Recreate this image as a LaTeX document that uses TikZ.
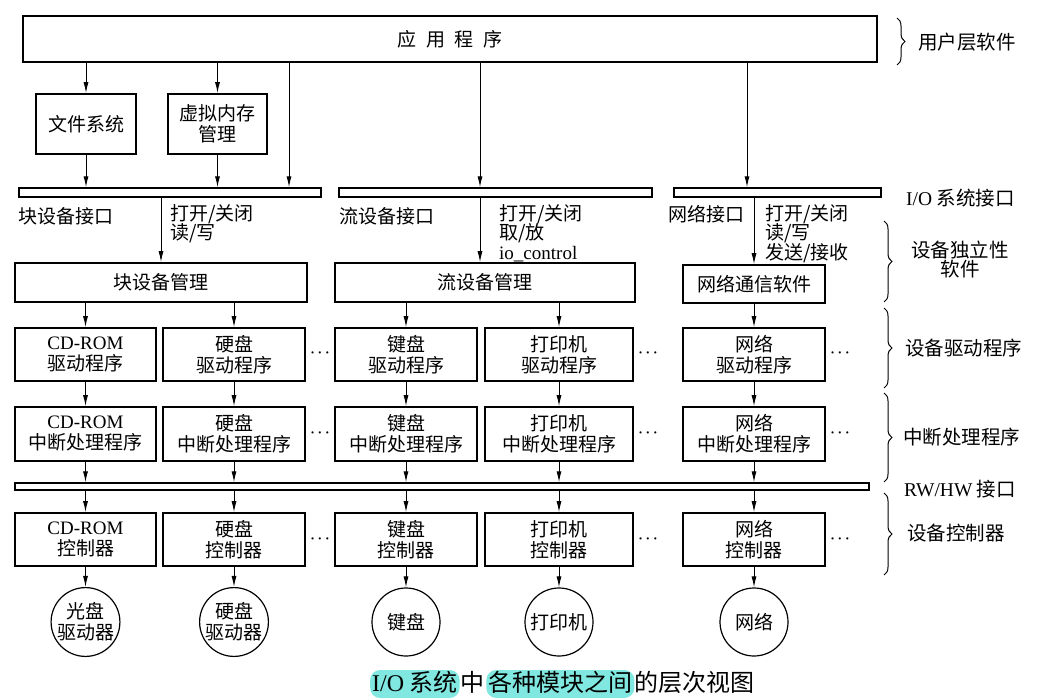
\documentclass[tikz,border=0pt]{standalone}
\usepackage{fontspec}
\setmainfont{Liberation Serif}
\newfontfamily\cjk{Noto Sans CJK SC}
\usetikzlibrary{arrows.meta,decorations.pathreplacing}
\definecolor{hl}{RGB}{128,232,224}
\newcommand\lt[1]{{\rmfamily #1}}
\begin{document}
\begin{tikzpicture}[x=1pt,y=-1pt,
  box/.style={draw, line width=1.6pt, inner sep=0pt, align=center, font=\cjk\fontsize{19}{21}\selectfont},
  bar/.style={draw, line width=1.4pt, inner sep=0pt},
  arr/.style={-{Latex[length=11pt,width=5pt]}, line width=1pt},
  lbl/.style={inner sep=0pt, align=left, font=\cjk\fontsize{19}{19.5}\selectfont},
  rlbl/.style={inner sep=0pt, align=center, font=\cjk\fontsize{19.5}{19}\selectfont},
  dev/.style={draw, circle, line width=1.2pt, minimum size=68pt, inner sep=0pt, align=center, font=\cjk\fontsize{19}{21}\selectfont},
  brc/.style={decorate, decoration={brace, amplitude=8pt}, line width=1pt},
  dots/.style={inner sep=0pt, font=\fontsize{14}{14}\selectfont\boldmath},
  captxt/.style={inner ysep=0pt, font=\cjk\fontsize{24}{26}\selectfont, text height=21pt, text depth=7pt}
]
\fill[white] (0,0) rectangle (1059,700);
\useasboundingbox (0,0) rectangle (1059,700);

% top level
\node[box, minimum width=854pt, minimum height=46pt] (app) at (450,39) {应\hspace{0.5em}用\hspace{0.5em}程\hspace{0.5em}序};
\node[box, minimum width=100pt, minimum height=60pt] (fs) at (86,124) {文件系统};
\node[box, minimum width=99pt, minimum height=60pt] (vm) at (217.5,124) {虚拟内存\\管理};
\node[bar, minimum width=302pt, minimum height=9pt] (bar1) at (170,192.5) {};
\node[bar, minimum width=313pt, minimum height=9pt] (bar2) at (495.5,192.5) {};
\node[bar, minimum width=207pt, minimum height=9pt] (bar3) at (777.5,192.5) {};

% interface labels
\node[lbl, anchor=west] (lb1) at (18,216) {块设备接口};
\node[lbl, anchor=north west] (lb2) at (170,204) {打开/关闭\\读/写};
\node[lbl, anchor=west] (ls1) at (339,216) {流设备接口};
\node[lbl, anchor=north west] (ls2) at (499,204) {打开/关闭\\取/放\\\lt{io\_control}};
\node[lbl, anchor=west] (ln1) at (668,214) {网络接口};
\node[lbl, anchor=north west] (ln2) at (765,204) {打开/关闭\\读/写\\发送/接收};

% management
\node[box, minimum width=292pt, minimum height=39pt] (blk) at (161,282.5) {块设备管理};
\node[box, minimum width=300pt, minimum height=39pt] (stm) at (485,282.5) {流设备管理};
\node[box, minimum width=142pt, minimum height=38pt] (net) at (754,284) {网络通信软件};

% drivers
\node[box, minimum width=141pt, minimum height=53pt] (d1) at (85.5,354.5) {\lt{CD-ROM}\\驱动程序};
\node[box, minimum width=142pt, minimum height=53pt] (d2) at (234,354.5) {硬盘\\驱动程序};
\node[box, minimum width=142pt, minimum height=53pt] (d3) at (406,354.5) {键盘\\驱动程序};
\node[box, minimum width=148pt, minimum height=53pt] (d4) at (559,354.5) {打印机\\驱动程序};
\node[box, minimum width=142pt, minimum height=53pt] (d5) at (754,354.5) {网络\\驱动程序};

% interrupt handlers
\node[box, minimum width=141pt, minimum height=54pt] (i1) at (85.5,434) {\lt{CD-ROM}\\中断处理程序};
\node[box, minimum width=142pt, minimum height=54pt] (i2) at (234,434) {硬盘\\中断处理程序};
\node[box, minimum width=142pt, minimum height=54pt] (i3) at (406,434) {键盘\\中断处理程序};
\node[box, minimum width=148pt, minimum height=54pt] (i4) at (559,434) {打印机\\中断处理程序};
\node[box, minimum width=142pt, minimum height=54pt] (i5) at (754,434) {网络\\中断处理程序};

\node[bar, minimum width=854pt, minimum height=7pt] (rw) at (442,486.5) {};

% controllers
\node[box, minimum width=141pt, minimum height=53pt] (c1) at (85.5,539.5) {\lt{CD-ROM}\\控制器};
\node[box, minimum width=142pt, minimum height=53pt] (c2) at (234,539.5) {硬盘\\控制器};
\node[box, minimum width=142pt, minimum height=53pt] (c3) at (406,539.5) {键盘\\控制器};
\node[box, minimum width=148pt, minimum height=53pt] (c4) at (559,539.5) {打印机\\控制器};
\node[box, minimum width=142pt, minimum height=53pt] (c5) at (754,539.5) {网络\\控制器};

% devices
\node[dev] (o1) at (85.5,622) {光盘\\驱动器};
\node[dev] (o2) at (234,622) {硬盘\\驱动器};
\node[dev] (o3) at (406,622) {键盘};
\node[dev] (o4) at (559,622) {打印机};
\node[dev] (o5) at (754,622) {网络};

% dots
\node[dots] (e1) at (320,353) {$\cdots$};
\node[dots] (e2) at (648,353) {$\cdots$};
\node[dots] (e3) at (840,353) {$\cdots$};
\node[dots] (f1) at (320,433) {$\cdots$};
\node[dots] (f2) at (648,433) {$\cdots$};
\node[dots] (f3) at (840,433) {$\cdots$};
\node[dots] (g1) at (320,539) {$\cdots$};
\node[dots] (g2) at (648,539) {$\cdots$};
\node[dots] (g3) at (840,539) {$\cdots$};

% connectors
\coordinate (k1) at (289,0);
\coordinate (k2) at (480,0);
\coordinate (k3) at (747,0);
\draw[arr] (app.south -| fs.north) -- (fs.north);
\draw[arr] (app.south -| vm.north) -- (vm.north);
\draw[arr] (fs.south) -- (fs.south |- bar1.north);
\draw[arr] (vm.south) -- (vm.south |- bar1.north);
\draw[arr] (app.south -| k1) -- (bar1.north -| k1);
\draw[arr] (app.south -| k2) -- (bar2.north -| k2);
\draw[arr] (app.south -| k3) -- (bar3.north -| k3);
\draw[arr] (bar1.south -| blk.north) -- (blk.north);
\draw[arr] (bar2.south -| k2) -- (stm.north -| k2);
\draw[arr] (bar3.south -| net.north) -- (net.north);
\draw[arr] (blk.south -| d1.north) -- (d1.north);
\draw[arr] (blk.south -| d2.north) -- (d2.north);
\draw[arr] (stm.south -| d3.north) -- (d3.north);
\draw[arr] (stm.south -| d4.north) -- (d4.north);
\draw[arr] (net.south) -- (d5.north);
\foreach \i in {1,...,5}{
  \draw[arr] (d\i.south) -- (i\i.north);
  \draw[arr] (i\i.south) -- (i\i.south |- rw.north);
  \draw[arr] (rw.south -| c\i.north) -- (c\i.north);
  \draw[arr] (c\i.south) -- (o\i.north);
}

% right-hand braces and labels
\draw[brc] (897,18) -- (897,65);
\node[rlbl, anchor=west] (t0) at (918,42) {用户层软件};
\node[rlbl, anchor=west] (t1) at (906,198) {\lt{I/O} 系统接口};
\draw[brc] (884,221) -- (884,302);
\node[rlbl] (t2) at (960,260) {设备独立性\\软件};
\draw[brc] (884,308) -- (884,388);
\node[rlbl, anchor=west] (t3) at (905,348) {设备驱动程序};
\draw[brc] (884,393) -- (884,482);
\node[rlbl, anchor=west] (t4) at (903,437) {中断处理程序};
\node[rlbl, anchor=west] (t5) at (904,489) {\lt{RW/HW} 接口};
\draw[brc] (884,493) -- (884,575);
\node[rlbl, anchor=west] (t6) at (907,533) {设备控制器};

% caption
\node[captxt, fill=hl, rounded corners=10pt, anchor=base west, inner xsep=2pt] (cp1) at (370,691) {\lt{I/O}\ 系统};
\node[captxt, anchor=base west, inner xsep=1pt] (cp2) at (cp1.base east) {中};
\node[captxt, fill=hl, rounded corners=10pt, anchor=base west, inner xsep=2pt] (cp3) at (cp2.base east) {各种模块之间};
\node[captxt, anchor=base west, inner xsep=0pt] (cp4) at (cp3.base east) {的层次视图};
\end{tikzpicture}
\end{document}
